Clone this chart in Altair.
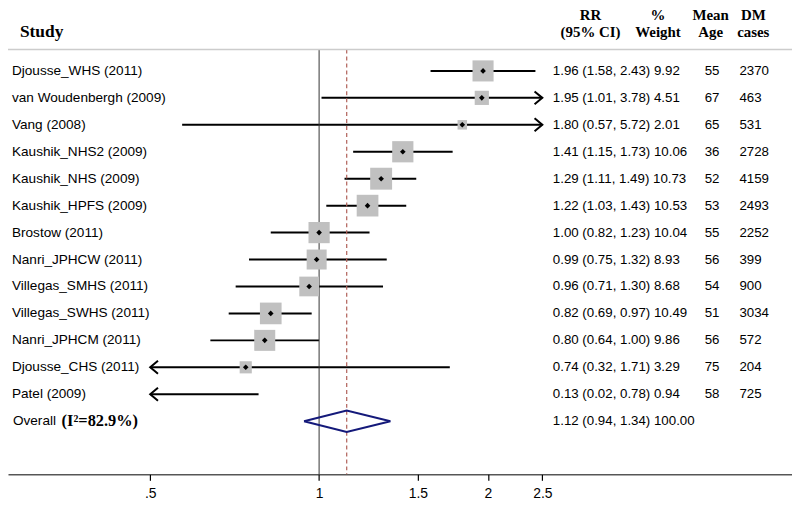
import altair as alt
import pandas as pd

# ---------------- data ----------------
studies = ["Djousse_WHS (2011)", "van Woudenbergh (2009)", "Vang (2008)",
           "Kaushik_NHS2 (2009)", "Kaushik_NHS (2009)", "Kaushik_HPFS (2009)",
           "Brostow (2011)", "Nanri_JPHCW (2011)", "Villegas_SMHS (2011)",
           "Villegas_SWHS (2011)", "Nanri_JPHCM (2011)", "Djousse_CHS (2011)",
           "Patel (2009)"]
rr = [1.96, 1.95, 1.80, 1.41, 1.29, 1.22, 1.00, 0.99, 0.96, 0.82, 0.80, 0.74, 0.13]
lower = [1.58, 1.01, 0.57, 1.15, 1.11, 1.03, 0.82, 0.75, 0.71, 0.69, 0.64, 0.32, 0.02]
upper = [2.43, 3.78, 5.72, 1.73, 1.49, 1.43, 1.23, 1.32, 1.30, 0.97, 1.00, 1.71, 0.78]
weight = [9.92, 4.51, 2.01, 10.06, 10.73, 10.53, 10.04, 8.93, 8.68, 10.49, 9.86, 3.29, 0.94]
mean_age = [55, 67, 65, 36, 52, 53, 55, 56, 54, 51, 56, 75, 58]
dm_cases = [2370, 463, 531, 2728, 4159, 2493, 2252, 399, 900, 3034, 572, 204, 725]

overall_rr = 1.12
overall_lower = 0.94
overall_upper = 1.34
overall_weight = 100.00
i2 = 82.9

tick_values = [0.5, 1, 1.5, 2, 2.5]
clip_min, clip_max = 0.5, 2.5

header_top = ["RR", "%", "Mean", "DM"]
header_bottom = ["(95% CI)", "Weight", "Age", "cases"]

# ---------------- frames ----------------
n = len(studies)
df = pd.DataFrame({
    "row": list(range(n)), "study": studies, "rr": rr, "lower": lower,
    "upper": upper, "weight": weight,
    "age": [str(a) for a in mean_age], "cases": [str(c) for c in dm_cases],
})
df["lo_c"] = df["lower"].clip(lower=clip_min)
df["hi_c"] = df["upper"].clip(upper=clip_max)
df["vals"] = [f"{a:.2f} ({b:.2f}, {c:.2f}) {w:.2f}" for a, b, c, w in zip(rr, lower, upper, weight)]
overall_row = n
ov = pd.DataFrame({
    "row": [overall_row],
    "vals": [f"{overall_rr:.2f} ({overall_lower:.2f}, {overall_upper:.2f}) {overall_weight:.2f}"],
})
dh = 0.40
diamond = pd.DataFrame({
    "x": [overall_lower, overall_rr, overall_upper, overall_rr, overall_lower],
    "y": [overall_row, overall_row - dh, overall_row, overall_row + dh, overall_row],
    "o": [0, 1, 2, 3, 4],
})

W, H = 790, 468
xs = alt.Scale(type="log", domain=[0.2789, 6.966], nice=False, zero=False)
ys = alt.Scale(domain=[-2.265, 14.972], reverse=True, nice=False, zero=False)

SANS = "Liberation Sans"
SERIF = "Liberation Serif"

base = alt.Chart(df)

xaxis = alt.Axis(values=tick_values, format="~g",
                 labelExpr="datum.value == 0.5 ? '.5' : datum.label",
                 domainColor="black", domainWidth=1, tickColor="black",
                 tickSize=6, tickWidth=1.2, labelFont=SANS, labelFontSize=14, labelColor="black",
                 labelPadding=6, grid=False, title="")

ci = base.mark_rule(color="black", strokeWidth=2).encode(
    x=alt.X("lo_c:Q", scale=xs, axis=xaxis),
    x2="hi_c:Q",
    y=alt.Y("row:Q", scale=ys, axis=None),
)

ref1 = alt.Chart(pd.DataFrame({"v": [1.0]})).mark_rule(color="#333333", strokeWidth=1).encode(
    x=alt.X("v:Q", scale=xs), y=alt.value(40), y2=alt.value(H))
ref2 = alt.Chart(pd.DataFrame({"v": [overall_rr]})).mark_rule(
    color="#b06058", strokeWidth=1.2, strokeDash=[4, 3]).encode(
    x=alt.X("v:Q", scale=xs), y=alt.value(40), y2=alt.value(H))

hline = alt.Chart(pd.DataFrame({"v": [0]})).mark_rule(color="#cccccc", strokeWidth=1.5).encode(
    x=alt.value(0), x2=alt.value(W), y=alt.value(40))

boxes = base.transform_filter(f"datum.rr >= {clip_min}").mark_square(
    color="#c0c0c0", opacity=1).encode(
    x=alt.X("rr:Q", scale=xs), y=alt.Y("row:Q", scale=ys),
    size=alt.Size("weight:Q", scale=alt.Scale(domain=[0, 11], range=[0, 500]), legend=None),
)

pts = base.transform_filter(f"datum.rr >= {clip_min}").mark_point(
    shape="diamond", filled=True, color="black", size=32, opacity=1).encode(
    x=alt.X("rr:Q", scale=xs), y=alt.Y("row:Q", scale=ys))

arr_r = base.transform_filter(f"datum.upper > {clip_max}").mark_point(
    shape="M -1.2 -1 L 0 0 L -1.2 1", filled=False, color="black",
    strokeWidth=2, size=170, opacity=1).encode(
    x=alt.X("hi_c:Q", scale=xs), y=alt.Y("row:Q", scale=ys))

arr_l = base.transform_filter(f"datum.lower < {clip_min}").mark_point(
    shape="M 1.2 -1 L 0 0 L 1.2 1", filled=False, color="black",
    strokeWidth=2, size=170, opacity=1).encode(
    x=alt.X("lo_c:Q", scale=xs), y=alt.Y("row:Q", scale=ys))

dia = alt.Chart(diamond).mark_line(color="#14197a", strokeWidth=2).encode(
    x=alt.X("x:Q", scale=xs), y=alt.Y("y:Q", scale=ys), order="o:Q")


def txt(data, field, xpx, **kw):
    opts = dict(align="left", baseline="middle", font=SANS, fontSize=13, color="black")
    opts.update(kw)
    return alt.Chart(data).mark_text(**opts).encode(
        x=alt.value(xpx), y=alt.Y("row:Q", scale=ys), text=field)


VF = 13.4
names = txt(df, "study:N", 4, fontSize=13.7)
vals = txt(df, "vals:N", 549, fontSize=VF)
ages = txt(df, "age:N", 702, fontSize=VF)
cases = txt(df, "cases:N", 737, fontSize=VF)

ovl = pd.DataFrame({"row": [overall_row], "t": ["Overall"], "t2": [f"(I\u00b2={i2}%)"]})
ov_lab = txt(ovl, "t:N", 5, fontSize=13.7)
ov_i2 = txt(ovl, "t2:N", 54, font=SERIF, fontSize=16.5, fontWeight="bold")
ov_vals = txt(ov, "vals:N", 549, fontSize=VF)

study_hdr = alt.Chart(pd.DataFrame({"t": ["Study"]})).mark_text(
    align="left", baseline="middle", font=SERIF, fontSize=17.5, fontWeight="bold", color="black").encode(
    x=alt.value(12), y=alt.value(22), text="t:N")

hdr_x = [587, 655, 708, 751]
hdr_layers = []
for top, bot, hx in zip(header_top, header_bottom, hdr_x):
    hd = pd.DataFrame({"t": [top], "b": [bot]})
    hdr_layers.append(alt.Chart(hd).mark_text(
        align="center", baseline="middle", font=SERIF, fontSize=15, fontWeight="bold", color="black").encode(
        x=alt.value(hx), y=alt.value(5), text="t:N"))
    hdr_layers.append(alt.Chart(hd).mark_text(
        align="center", baseline="middle", font=SERIF, fontSize=15, fontWeight="bold", color="black").encode(
        x=alt.value(hx), y=alt.value(22), text="b:N"))

chart = alt.layer(
    ci, ref1, ref2, hline, boxes, pts, arr_r, arr_l, dia,
    names, vals, ages, cases, ov_lab, ov_i2, ov_vals, study_hdr, *hdr_layers
).properties(
    width=W, height=H,
    autosize=alt.AutoSizeParams(type="none"),
    padding={"left": 0, "top": 0, "right": 0, "bottom": 30},
).configure_view(stroke=None)

chart.save("out.html", embed_options={"renderer": "svg", "actions": False})
